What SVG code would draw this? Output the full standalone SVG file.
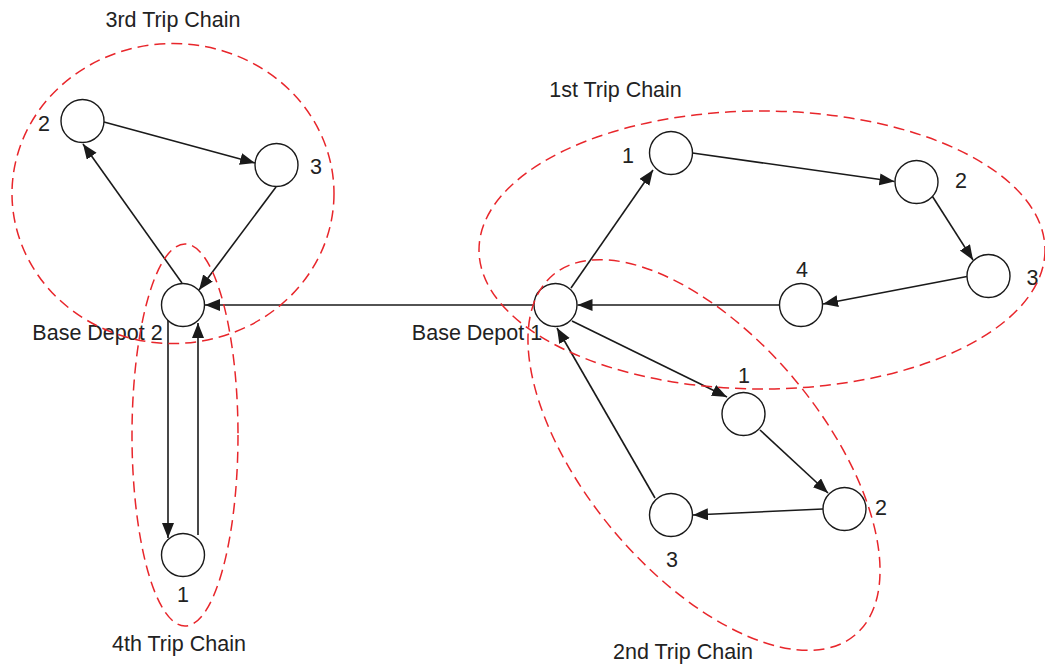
<svg xmlns="http://www.w3.org/2000/svg" width="1045" height="669" viewBox="0 0 1045 669">
<defs>
<marker id="arr" markerUnits="userSpaceOnUse" markerWidth="16" markerHeight="13" refX="15" refY="6" orient="auto">
<path d="M0,0 L15,6 L0,12 z" fill="#1a1a1a"/>
</marker>
<style>
.n{fill:#fff;stroke:#1a1a1a;stroke-width:1.4}
.e{stroke:#1a1a1a;stroke-width:1.6;fill:none;marker-end:url(#arr)}
.c{fill:none;stroke:#e8262b;stroke-width:1.5;stroke-dasharray:11 6}
text{font-family:"Liberation Sans",Arial,sans-serif;font-size:21.5px;fill:#222;text-anchor:middle}
</style>
</defs>
<rect width="1045" height="669" fill="#fff"/>
<g id="connectors">
<line class="e" x1="182" y1="283" x2="83" y2="144"/>
<line class="e" x1="104" y1="122" x2="255" y2="163"/>
<line class="e" x1="276" y1="187" x2="199" y2="290"/>
<line class="e" x1="168" y1="318" x2="168" y2="538"/>
<line class="e" x1="198" y1="535" x2="198" y2="323"/>
<line class="e" x1="534" y1="305" x2="205" y2="305"/>
<line class="e" x1="571" y1="288" x2="653" y2="170"/>
<line class="e" x1="692.5" y1="153" x2="894.5" y2="181.5"/>
<line class="e" x1="932.5" y1="196.5" x2="973" y2="260"/>
<line class="e" x1="967" y1="276.5" x2="823" y2="304"/>
<line class="e" x1="780" y1="305" x2="577.5" y2="305"/>
<line class="e" x1="572" y1="321" x2="727" y2="397"/>
<line class="e" x1="760" y1="430" x2="828" y2="493"/>
<line class="e" x1="823" y1="509" x2="693" y2="515"/>
<line class="e" x1="655" y1="498" x2="557" y2="328"/>
</g>
<g id="depot2"><circle class="n" cx="183" cy="305" r="21.5"/><text x="97.5" y="340">Base Depot 2</text></g>
<g id="c3n2"><circle class="n" cx="82.5" cy="121" r="21.5"/><text x="44" y="131">2</text></g>
<g id="c3n3"><circle class="n" cx="276.5" cy="165" r="21.5"/><text x="316" y="174">3</text></g>
<g id="c4n1"><circle class="n" cx="183" cy="555" r="21.5"/><text x="183" y="602">1</text></g>
<g id="depot1"><circle class="n" cx="555.5" cy="305" r="21.5"/><text x="477" y="340">Base Depot 1</text></g>
<g id="c1n1"><circle class="n" cx="671" cy="153" r="21.5"/><text x="628" y="163">1</text></g>
<g id="c1n2"><circle class="n" cx="916.5" cy="182" r="21.5"/><text x="961" y="188">2</text></g>
<g id="c1n3"><circle class="n" cx="988.5" cy="276" r="21.5"/><text x="1032.5" y="285">3</text></g>
<g id="c1n4"><circle class="n" cx="801" cy="305" r="21.5"/><text x="802" y="277">4</text></g>
<g id="c2n1"><circle class="n" cx="743.5" cy="414" r="21.5"/><text x="744" y="383">1</text></g>
<g id="c2n2"><circle class="n" cx="844.5" cy="509" r="21.5"/><text x="881" y="515">2</text></g>
<g id="c2n3"><circle class="n" cx="671" cy="515" r="21.5"/><text x="672" y="567">3</text></g>
<g id="chain3"><ellipse class="c" cx="173" cy="193.5" rx="161" ry="150"/><text x="173" y="27">3rd Trip Chain</text></g>
<g id="chain4"><ellipse class="c" cx="185" cy="435" rx="53" ry="191"/><text x="179" y="651">4th Trip Chain</text></g>
<g id="chain1"><ellipse class="c" cx="762" cy="250" rx="283" ry="139"/><text x="615.5" y="97">1st Trip Chain</text></g>
<g id="chain2"><ellipse class="c" cx="0" cy="0" rx="235" ry="118" transform="translate(704 455) rotate(50)"/><text x="683" y="659">2nd Trip Chain</text></g>
</svg>
